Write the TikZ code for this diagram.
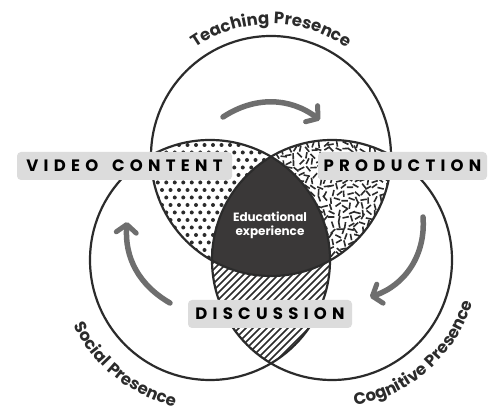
\documentclass[tikz,border=0pt]{standalone}
\usepackage{fontspec}
\setmainfont{Poppins}
\newfontfamily\tagfont[LetterSpace=32]{Poppins}
\newfontfamily\ringfont[LetterSpace=4]{Poppins}
\usetikzlibrary{arrows.meta,decorations.text,calc}
\definecolor{ink}{HTML}{2B2B2B}
\definecolor{corefill}{HTML}{3A3838}
\definecolor{arrowgray}{HTML}{6E6E6E}
\definecolor{tagfill}{HTML}{DCDCDC}
\newcommand\curvefont{\ringfont\bfseries\fontsize{16.5}{16.5}\selectfont}
\tikzset{
  ring/.style={draw=ink, line width=2.2pt},
  tag/.style={fill=tagfill, rounded corners=4pt, minimum height=28pt, inner sep=0pt,
    font={\tagfont\bfseries\fontsize{16.5}{19}\selectfont}, text=black},
  flow/.style={draw=arrowgray, line width=5.5pt, line cap=round,
    -{Straight Barb[length=8pt,width=20pt,line width=5pt,round]}},
  curved/.style={decorate, decoration={text along path, text align=center, text color=ink}},
}
\begin{document}
\begin{tikzpicture}[x=1pt,y=1pt]
\useasboundingbox (0,0) rectangle (488,413);
\fill[white] (0,0) rectangle (488,413);
\def\rad{120}
\coordinate (T) at (271,257);
\coordinate (L) at (210,153);
\coordinate (R) at (332,153);

% dotted lens: teaching and social
\begin{scope}
  \clip (T) circle[radius=\rad];
  \clip (L) circle[radius=\rad];
  \foreach \i in {0,...,19}{
    \foreach \j in {0,...,22}{
      \fill[ink] ({145+8.5*\j+4.25*mod(\i,2)},{133+7.5*\i}) circle[radius=2];
    }
  }
\end{scope}

% confetti lens: teaching and cognitive
\begin{scope}
  \clip (T) circle[radius=\rad];
  \clip (R) circle[radius=\rad];
  \pgfmathsetseed{7}
  \foreach \i in {0,...,22}{
    \foreach \j in {0,...,30}{
      \pgfmathsetmacro{\ang}{rnd*180}
      \pgfmathsetmacro{\dx}{rand*1.6}
      \pgfmathsetmacro{\dy}{rand*1.6}
      \draw[ink, line width=1.6pt] ({208+6.2*\j+\dx},{133+6.2*\i+\dy}) ++(\ang:-3.2) -- ++(\ang:6.4);
    }
  }
\end{scope}

% hatched lens: social and cognitive
\begin{scope}
  \clip (L) circle[radius=\rad];
  \clip (R) circle[radius=\rad];
  \foreach \k in {0,...,54}{
    \draw[ink, line width=1.6pt] ({-50+7*\k},20) -- ++(260,260);
  }
\end{scope}

% centre where all three meet
\begin{scope}
  \clip (T) circle[radius=\rad];
  \clip (L) circle[radius=\rad];
  \fill[corefill] (R) circle[radius=\rad];
\end{scope}

\draw[ring] (T) circle[radius=\rad];
\draw[ring] (L) circle[radius=\rad];
\draw[ring] (R) circle[radius=\rad];

% cycle arrows
\coordinate (a1s) at (223,296); \coordinate (a1e) at (320,293);
\coordinate (a2s) at (423,196); \coordinate (a2e) at (370,116);
\coordinate (a3s) at (170,110); \coordinate (a3e) at (127,191);
\draw[flow] (a1s) to[bend left=35] (a1e);
\draw[flow] (a2s) to[bend left=38] (a2e);
\draw[flow] (a3s) to[bend left=32] (a3e);

\node[text=white, align=center, font={\bfseries\fontsize{12}{14}\selectfont}] (edu) at (270,188) {Educational\\experience};

\node[tag, minimum width=215pt] (video) at (124.5,247) {VIDEO\hspace{5pt} CONTENT};
\node[tag, minimum width=169pt] (prod) at (402.5,247) {PRODUCTION};
\node[tag, minimum width=164pt] (disc) at (270,99) {DISCUSSION};

% presence labels around the rings
\path[curved, decoration={text={|\curvefont|Teaching Presence}}]
  ($(T)+(152:132)$) arc[start angle=152, end angle=28, radius=132];
\path[curved, decoration={text={|\curvefont|Social Presence}}]
  ($(L)+(184:151)$) arc[start angle=184, end angle=278, radius=151];
\path[curved, decoration={text={|\curvefont|Cognitive Presence}}]
  ($(R)+(261:147)$) arc[start angle=261, end angle=361, radius=147];
\end{tikzpicture}
\end{document}
